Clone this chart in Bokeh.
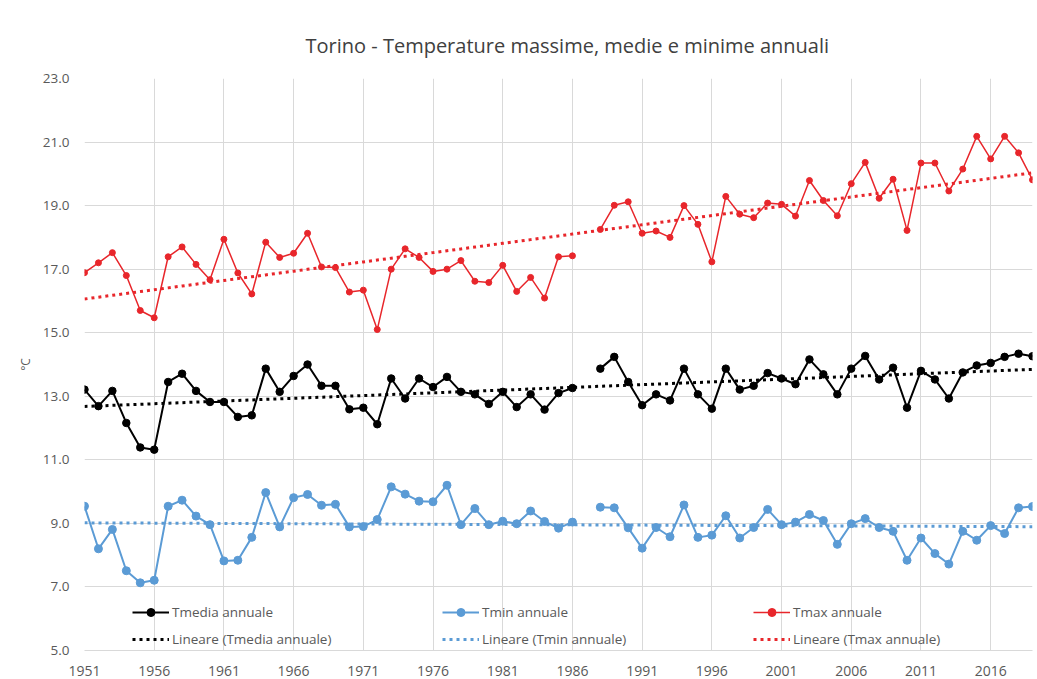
import numpy as np
from bokeh.plotting import figure
from bokeh.models import (Range1d, FixedTicker, NumeralTickFormatter, Legend,
                          LegendItem, ColumnDataSource)
from bokeh.embed import file_html
from bokeh.resources import INLINE

nan = float("nan")

years = list(range(1951, 2020))

tmedia = [13.21, 12.69, 13.17, 12.16, 11.39, 11.32, 13.45, 13.71, 13.17, 12.82,
          12.82, 12.35, 12.40, 13.87, 13.14, 13.64, 14.00, 13.33, 13.33, 12.59,
          12.64, 12.12, 13.56, 12.93, 13.56, 13.29, 13.61, 13.14, 13.06, 12.76,
          13.14, 12.66, 13.06, 12.58, 13.10, 13.26, nan, 13.87, 14.24, 13.45,
          12.72, 13.06, 12.87, 13.87, 13.06, 12.61, 13.87, 13.21, 13.33, 13.73,
          13.56, 13.38, 14.16, 13.69, 13.06, 13.87, 14.27, 13.53, 13.90, 12.64,
          13.80, 13.53, 12.93, 13.75, 13.97, 14.05, 14.24, 14.34, 14.26]

tmin = [9.54, 8.20, 8.81, 7.51, 7.13, 7.21, 9.54, 9.73, 9.23, 8.96,
        7.82, 7.84, 8.56, 9.97, 8.89, 9.81, 9.91, 9.57, 9.60, 8.89,
        8.90, 9.12, 10.15, 9.92, 9.70, 9.68, 10.20, 8.96, 9.47, 8.96,
        9.07, 8.99, 9.39, 9.06, 8.85, 9.04, nan, 9.51, 9.49, 8.86,
        8.22, 8.87, 8.58, 9.58, 8.56, 8.63, 9.24, 8.54, 8.87, 9.44,
        8.96, 9.04, 9.28, 9.09, 8.34, 8.99, 9.15, 8.87, 8.75, 7.84,
        8.54, 8.05, 7.72, 8.75, 8.47, 8.93, 8.68, 9.49, 9.53]

tmax = [16.89, 17.20, 17.52, 16.80, 15.70, 15.47, 17.39, 17.70, 17.15, 16.67,
        17.94, 16.88, 16.22, 17.85, 17.37, 17.50, 18.13, 17.07, 17.05, 16.28,
        16.34, 15.10, 17.00, 17.64, 17.37, 16.93, 17.00, 17.27, 16.62, 16.58,
        17.12, 16.30, 16.74, 16.09, 17.39, 17.42, nan, 18.25, 19.01, 19.12,
        18.13, 18.20, 18.00, 19.00, 18.41, 17.23, 19.29, 18.73, 18.62, 19.08,
        19.04, 18.67, 19.79, 19.16, 18.68, 19.69, 20.36, 19.23, 19.83, 18.22,
        20.34, 20.34, 19.46, 20.15, 21.18, 20.47, 21.18, 20.66, 19.81]

x_tick_years = [1951, 1956, 1961, 1966, 1971, 1976, 1981, 1986, 1991, 1996,
                2001, 2006, 2011, 2016]
y_ticks = [5, 7, 9, 11, 13, 15, 17, 19, 21, 23]

series_labels = ["Tmedia annuale", "Tmin annuale", "Tmax annuale"]
trend_labels = ["Lineare (Tmedia annuale)", "Lineare (Tmin annuale)",
                "Lineare (Tmax annuale)"]

title_text = "Torino - Temperature massime, medie e minime annuali"


def trend(vals):
    x = np.array(years, dtype=float)
    y = np.array(vals, dtype=float)
    m = ~np.isnan(y)
    a, b = np.polyfit(x[m], y[m], 1)
    return list(a * x + b)


FONT = "Open Sans"
TXT = "#595959"
GRID = "#d9d9d9"

p = figure(width=1036, height=678, output_backend="svg", toolbar_location=None,
           x_range=Range1d(1951, 2019), y_range=Range1d(5, 23),
           min_border_left=84, min_border_right=4, min_border_top=78,
           min_border_bottom=27, title=title_text)
p.outline_line_color = None
p.background_fill_color = "white"
p.border_fill_color = "white"

p.title.text_font = FONT
p.title.text_font_size = "20px"
p.title.text_font_style = "normal"
p.title.text_color = "#404040"
p.title.align = "left"
p.title.offset = 221
p.title.standoff = 40

# axes
p.xaxis.ticker = FixedTicker(ticks=x_tick_years)
p.xaxis.major_label_overrides = {y: str(y) for y in x_tick_years}
p.yaxis.ticker = FixedTicker(ticks=y_ticks)
p.yaxis.formatter = NumeralTickFormatter(format="0.0")
for ax in (p.xaxis, p.yaxis):
    ax.major_tick_line_color = None
    ax.minor_tick_line_color = None
    ax.major_label_text_font = FONT
    ax.major_label_text_color = TXT
p.xaxis.major_label_text_font_size = "14px"
p.yaxis.major_label_text_font_size = "13.5px"
p.xaxis.axis_line_color = GRID
p.yaxis.axis_line_color = None
p.xaxis.major_label_standoff = 9
p.yaxis.major_label_standoff = 9
p.yaxis.axis_label = "°C"
p.yaxis.axis_label_text_font = FONT
p.yaxis.axis_label_text_font_size = "12px"
p.yaxis.axis_label_text_font_style = "normal"
p.yaxis.axis_label_text_color = TXT
p.yaxis.axis_label_standoff = 6

p.xgrid.ticker = FixedTicker(ticks=x_tick_years)
p.ygrid.ticker = FixedTicker(ticks=y_ticks)
p.xgrid.grid_line_color = GRID
p.ygrid.grid_line_color = GRID

src = ColumnDataSource(dict(year=years, tmedia=tmedia, tmin=tmin, tmax=tmax,
                            tr_media=trend(tmedia), tr_min=trend(tmin),
                            tr_max=trend(tmax)))

BLACK = "#000000"
BLUE = "#5b9bd5"
RED = "#e8262b"

# trend lines
tr_b = p.line("year", "tr_media", source=src, line_color=BLACK, line_width=3,
              line_dash="3 4")
tr_bl = p.line("year", "tr_min", source=src, line_color=BLUE, line_width=3,
               line_dash="3 4")
tr_r = p.line("year", "tr_max", source=src, line_color=RED, line_width=3,
              line_dash="3 4")

# data series
lb = p.line("year", "tmedia", source=src, line_color=BLACK, line_width=2)
sb = p.scatter("year", "tmedia", source=src, size=7.5, color=BLACK)
lbl = p.line("year", "tmin", source=src, line_color=BLUE, line_width=2)
sbl = p.scatter("year", "tmin", source=src, size=8, color=BLUE)
lr = p.line("year", "tmax", source=src, line_color=RED, line_width=1.5)
sr = p.scatter("year", "tmax", source=src, size=6, color=RED)

groups = [
    ([lb, sb], tr_b, 48),
    ([lbl, sbl], tr_bl, 358),
    ([lr, sr], tr_r, 669),
]
for i, (rends, trr, xoff) in enumerate(groups):
    leg = Legend(items=[LegendItem(label=series_labels[i], renderers=rends),
                        LegendItem(label=trend_labels[i], renderers=[trr])],
                 location=(xoff, 1), orientation="vertical",
                 glyph_width=37, glyph_height=20, label_height=20,
                 label_standoff=3, spacing=7, padding=0, margin=0,
                 background_fill_alpha=0, border_line_alpha=0,
                 label_text_font=FONT, label_text_font_size="13.5px",
                 label_text_color=TXT)
    p.add_layout(leg, "center")

open("out.html", "w").write(file_html(p, INLINE))
